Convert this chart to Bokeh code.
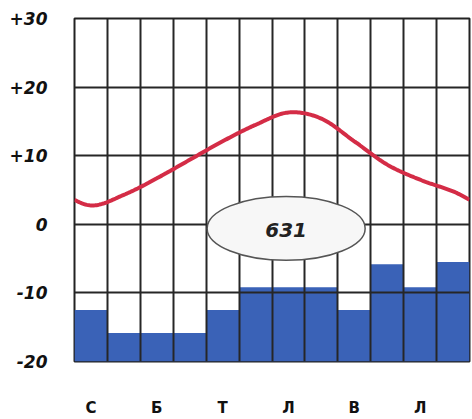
import numpy as np
from bokeh.plotting import figure
from bokeh.models import Range1d, FixedTicker
from bokeh.core.properties import value
from bokeh.embed import file_html
from bokeh.resources import INLINE

# ---- data ----
months = ["Січень", "Лютий", "Березень", "Квітень", "Травень", "Червень",
          "Липень", "Серпень", "Вересень", "Жовтень", "Листопад", "Грудень"]
month_labels = ["С", "", "Б", "", "Т", "", "Л", "", "В", "", "Л", ""]
temperature = [2.75, 4.3, 6.7, 9.4, 12.1, 14.5, 16.3, 15.4, 12.1, 8.7, 6.5, 4.8]
precipitation = [45, 25, 25, 25, 45, 65, 65, 65, 45, 85, 65, 87]
annual_precip = 631
y_ticks = [-20, -10, 0, 10, 20, 30]
y_tick_labels = ["-20", "-10", "0", "+10", "+20", "+30"]

n = len(months)
centers = [i + 0.5 for i in range(n)]

# ---- smooth periodic curve through monthly temperatures (Catmull-Rom) ----
ext_y = [temperature[-2], temperature[-1]] + temperature + [temperature[0], temperature[1]]
ext_x = [c - 2 for c in centers[:2]] + centers + [c + n for c in centers[:2]]
cx, cy = [], []
for k in range(1, len(ext_y) - 2):
    p0, p1, p2, p3 = ext_y[k - 1], ext_y[k], ext_y[k + 1], ext_y[k + 2]
    for t in np.linspace(0, 1, 25):
        xv = ext_x[k] + t * (ext_x[k + 1] - ext_x[k])
        yv = 0.5 * ((2 * p1) + (-p0 + p2) * t + (2 * p0 - 5 * p1 + 4 * p2 - p3) * t ** 2
                    + (-p0 + 3 * p1 - 3 * p2 + p3) * t ** 3)
        if 0 <= xv <= n:
            cx.append(xv)
            cy.append(yv)

p = figure(width=472, height=419, x_range=Range1d(0, n), y_range=Range1d(-20, 30),
           output_backend="svg", toolbar_location=None,
           min_border_left=74, min_border_right=3, min_border_top=18, min_border_bottom=58)
p.extra_y_ranges = {"precip": Range1d(0, 300)}
p.background_fill_color = "white"
p.border_fill_color = "white"
p.outline_line_color = "#222222"
p.outline_line_width = 2

# bars under the grid
p.vbar(x=centers, top=precipitation, bottom=0, width=1.0, y_range_name="precip",
       fill_color="#3a62b7", line_color=None, level="image")

# grid
p.xgrid.ticker = FixedTicker(ticks=list(range(n + 1)))
p.ygrid.ticker = FixedTicker(ticks=y_ticks)
for g in (p.xgrid, p.ygrid):
    g.grid_line_color = "#262626"
    g.grid_line_width = 2
    g.grid_line_alpha = 1.0

# temperature line
p.line(cx, cy, line_color="#d42c46", line_width=4)

# annual precipitation ellipse
p.ellipse(x=[6.43], y=[-0.6], width=4.8, height=9.3, fill_color="#f7f7f7",
          line_color="#555555", line_width=1.5)
p.text(x=[6.43], y=[-0.9], text=[str(annual_precip)], text_align="center",
       text_baseline="middle", text_font=value("DejaVu Sans"),
       text_font_style="bold italic", text_font_size="20px", text_color="#222222")

# axes
p.yaxis.ticker = FixedTicker(ticks=y_ticks)
p.yaxis.major_label_overrides = {t: l for t, l in zip(y_ticks, y_tick_labels)}
p.yaxis.major_label_text_font = "DejaVu Sans"
p.yaxis.major_label_text_font_style = "bold italic"
p.yaxis.major_label_text_font_size = "17px"
p.yaxis.major_label_text_color = "#111111"
p.yaxis.major_label_standoff = 21

p.xaxis.ticker = FixedTicker(ticks=centers)
p.xaxis.major_label_overrides = {c: l for c, l in zip(centers, month_labels)}
p.xaxis.major_label_text_font = "DejaVu Sans"
p.xaxis.major_label_text_font_style = "bold"
p.xaxis.major_label_text_font_size = "15px"
p.xaxis.major_label_text_color = "#111111"
p.xaxis.major_label_standoff = 31

for ax in (p.xaxis, p.yaxis):
    ax.axis_line_color = None
    ax.major_tick_line_color = None
    ax.minor_tick_line_color = None

open("out.html", "w").write(file_html(p, INLINE))
